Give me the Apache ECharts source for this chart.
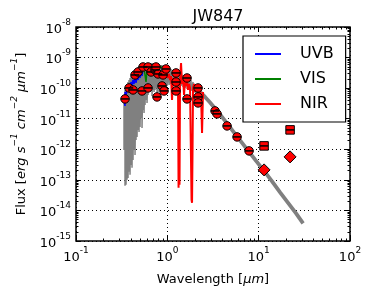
<!DOCTYPE html>
<html><head><meta charset="utf-8">
<script src="https://cdn.jsdelivr.net/npm/echarts@6/dist/echarts.min.js"></script>
<style>html,body{margin:0;padding:0;background:#fff}#c{width:373px;height:296px}</style>
</head><body><div id="c"></div>
<script>
const titleText = 'JW847';
const xTicks = [0.1, 1, 10, 100];
const yTicks = [1e-15, 1e-14, 1e-13, 1e-12, 1e-11, 1e-10, 1e-9, 1e-8];
const legendNames = ['UVB', 'VIS', 'NIR'];

// model spectrum (grey), dense optical part drawn as min/max pairs
const modelSpectrum = [
[0.3355,6.00e-11],[0.3355,9.56e-13],[0.3441,8.73e-11],[0.3441,6.37e-14],
[0.3529,1.015e-10],[0.3529,6.86e-14],[0.3620,1.27e-10],[0.3620,1.00e-13],
[0.3712,1.59e-10],[0.3712,1.16e-13],[0.3806,1.85e-10],[0.3806,1.83e-13],
[0.3904,2.15e-10],[0.3904,1.46e-13],[0.4003,2.50e-10],[0.4003,3.09e-13],
[0.4105,2.70e-10],[0.4105,2.47e-13],[0.4210,2.91e-10],[0.4210,4.50e-13],
[0.4318,3.38e-10],[0.4318,9.56e-13],[0.4428,3.93e-10],[0.4428,6.56e-13],
[0.4541,4.24e-10],[0.4541,2.03e-12],[0.4657,4.57e-10],[0.4657,2.54e-12],
[0.4776,4.93e-10],[0.4776,4.31e-12],[0.4898,5.31e-10],[0.4898,3.70e-12],
[0.5023,5.73e-10],[0.5023,5.40e-12],[0.5151,5.73e-10],[0.5151,1.06e-11],
[0.5283,6.18e-10],[0.5283,5.00e-12],[0.5417,6.18e-10],[0.5417,1.94e-11],
[0.5556,6.66e-10],[0.5556,1.55e-11],[0.5698,6.66e-10],[0.5698,2.82e-11],
[0.5843,6.66e-10],[0.5843,4.11e-11],[0.5993,6.66e-10],[0.5993,3.28e-11],
[0.6146,6.66e-10],[0.6146,6.00e-11],[0.6300,6.66e-10],[0.6300,8.10e-11],
[0.6464,6.66e-10],[0.6464,7.51e-11],[0.6629,6.66e-10],[0.6629,9.42e-11],
[0.6798,6.66e-10],[0.6798,5.56e-11],[0.6972,6.66e-10],[0.6972,8.73e-11],
[0.7150,6.18e-10],[0.7150,7.51e-11],[0.7332,6.18e-10],[0.7332,8.73e-11],
[0.7519,6.18e-10],[0.7519,1.015e-10],[0.7711,6.18e-10],[0.7711,6.97e-11],
[0.7909,6.18e-10],[0.7909,7.51e-11],[0.8111,5.73e-10],[0.8111,9.42e-11],
[0.8318,5.73e-10],[0.8318,8.10e-11],[0.8531,5.73e-10],[0.8531,1.015e-10],
[0.8749,5.73e-10],[0.8749,7.51e-11],[0.8974,5.31e-10],[0.8974,9.42e-11],
[0.9203,5.31e-10],[0.9203,8.73e-11],[0.9438,5.31e-10],[0.9438,1.18e-10],
[0.9678,4.93e-10],[0.9678,1.015e-10],[0.9925,4.93e-10],[0.9925,1.18e-10],
[1.0438,4.57e-10],[1.0438,1.27e-10],[1.0978,4.24e-10],[1.0978,1.37e-10],
[1.1546,3.93e-10],[1.1546,1.59e-10],[1.2143,3.65e-10],[1.2143,1.48e-10],
[1.2771,3.38e-10],[1.2771,1.37e-10],[1.3432,3.14e-10],[1.3432,1.27e-10],
[1.4127,2.91e-10],[1.4127,1.18e-10],[1.4858,2.70e-10],[1.4858,1.10e-10],
[1.5626,2.50e-10],[1.5626,1.015e-10],[1.6434,2.15e-10],[1.6434,9.42e-11],
[1.7284,2.00e-10],[1.7284,8.73e-11],[1.8178,1.85e-10],[1.8178,8.10e-11],
[1.9119,1.59e-10],[1.9119,7.51e-11],[2.0108,1.37e-10],[2.0108,6.97e-11],
[2.1148,1.27e-10],[2.1148,6.46e-11],[2.2242,1.10e-10],[2.2242,6.00e-11],
[2.3392,9.42e-11],[2.3392,5.56e-11]
];
// model spectrum (grey), infrared tail
const modelTail = [
[2.281,7.51e-11],[2.588,5.16e-11],[2.936,3.41e-11],[3.331,2.17e-11],[3.778,1.38e-11],
[4.507,7.02e-12],[5.514,3.19e-12],[6.579,1.62e-12],[7.851,8.22e-13],[9.365,4.18e-13],
[11.46,1.97e-13],[14.02,8.93e-14],[17.16,3.90e-14],[20.99,1.77e-14],[25.68,8.04e-15],[30.65,3.79e-15]
];
const uvb = [
[0.3355,4.11e-11],[0.3441,2.62e-11],[0.3441,7.51e-11],[0.3529,5.56e-11],[0.3620,1.015e-10],
[0.3712,7.51e-11],[0.3806,1.37e-10],[0.3904,8.73e-11],[0.4003,1.59e-10],[0.4105,1.18e-10],
[0.4210,1.85e-10],[0.4318,1.37e-10],[0.4428,2.15e-10],[0.4541,1.48e-10],[0.4657,2.50e-10],
[0.4776,1.85e-10],[0.4898,2.91e-10],[0.5023,2.15e-10],[0.5151,3.38e-10],[0.5283,2.50e-10],
[0.5417,3.93e-10]
];
const vis = [
[0.5417,3.93e-10],[0.5556,4.57e-10],[0.5698,2.70e-10],[0.5843,1.59e-10],[0.5993,3.93e-10],
[0.6146,5.31e-10],[0.6464,4.57e-10],[0.6798,5.31e-10],[0.7332,4.93e-10],[0.7909,4.57e-10],
[0.8531,4.93e-10],[0.9203,4.24e-10],[0.9925,3.93e-10]
];
const nir = [
[0.9925,3.38e-10],[1.0178,2.15e-10],[1.0438,2.91e-10],[1.071,1.85e-10],[1.0978,2.50e-10],
[1.1258,4.11e-11],[1.1546,2.15e-10],[1.1841,1.59e-10],[1.2143,2.50e-10],[1.2453,1.37e-10],
[1.2771,2.15e-10],[1.3097,1.015e-10],[1.327,5.48e-14],[1.3432,6.00e-11],[1.360,6.86e-14],
[1.3775,1.85e-10],[1.4127,6.66e-10],[1.4488,1.37e-10],[1.4858,2.15e-10],[1.5237,6.00e-11],
[1.5626,1.85e-10],[1.6025,1.18e-10],[1.6434,1.59e-10],[1.6854,8.73e-11],[1.7284,1.37e-10],
[1.7726,1.015e-10],[1.8178,1.18e-10],[1.841,2.22e-14],[1.8643,1.77e-14],[1.888,9.56e-13],
[1.9119,1.015e-10],[1.9607,1.37e-10],[2.0108,7.51e-11],[2.0621,1.18e-10],[2.1148,8.73e-11],
[2.1688,1.015e-10],[2.2242,6.46e-11],[2.281,8.73e-11],[2.3392,5.56e-11],[2.399,3.44e-12],
[2.460,7.51e-11]
];
const photCircles = [
[0.3441,4.44e-11],[0.3806,1.015e-10],[0.4210,8.73e-11],[0.4428,2.70e-10],[0.4776,3.38e-10],
[0.5283,8.10e-11],[0.5417,4.93e-10],[0.6146,1.015e-10],[0.6146,4.93e-10],[0.6629,3.38e-10],
[0.7332,3.93e-10],[0.7519,4.93e-10],[0.7711,5.16e-11],[0.7909,2.91e-10],[0.8749,1.18e-10],
[0.8974,2.70e-10],[0.9203,8.10e-11],[0.9678,4.24e-10],[1.245,3.14e-10],[1.245,1.59e-10],
[1.245,8.10e-11],[1.643,2.15e-10],[1.643,4.44e-11],[2.169,1.015e-10],[2.169,5.16e-11],
[2.169,3.28e-11],[3.331,1.80e-11],[3.503,1.44e-11],[4.507,5.82e-12],[5.80,2.54e-12],
[7.851,8.87e-13]
];
const photSquares = [[11.46,1.29e-12],[22.08,4.31e-12]];
const photDiamonds = [[11.46,2.12e-13],[22.08,5.64e-13]];

const FONT = 'DejaVu Sans';
function minorOf(ticks){ const out=[]; for(let i=0;i<ticks.length-1;i++){ for(let k=2;k<=9;k++) out.push(ticks[i]*k); } return out; }
const xMinor = minorOf(xTicks), yMinor = minorOf(yTicks);
function supLabel(v){ const e = Math.round(Math.log10(v)); return '{b|10}{s|' + e + '}'; }
const labelRich = {
  b: {fontFamily: FONT, fontSize: 13, color: '#000', lineHeight: 18, verticalAlign: 'bottom'},
  s: {fontFamily: FONT, fontSize: 9, color: '#000', lineHeight: 18, verticalAlign: 'top', padding:[0,0,0,0]}
};
const gridLine = {show: true, lineStyle: {color: '#000', width: 1, type: [1, 3]}};
function mkX(pos, major, labels){
  return {type:'log', logBase:10, min:0.1, max:100, position:pos, splitNumber:3,
    axisLine:{show:false},
    axisTick:{show:true, inside:true, length: major?5:2.5, customValues: major?xTicks:xMinor, lineStyle:{color:'#000', width:1}},
    axisLabel: labels ? {show:true, customValues:xTicks, formatter:supLabel, margin:5, rich:labelRich} : {show:false},
    splitLine: (major && labels) ? gridLine : {show:false},
    name: labels ? '{n|Wavelength [}{i|μm}{n|]}' : '', nameLocation:'middle', nameGap: 32,
    nameTextStyle: {rich:{n:{fontFamily:FONT,fontSize:13,color:'#000'}, i:{fontFamily:FONT,fontSize:13,fontStyle:'italic',color:'#000'}}}
  };
}
function mkY(pos, major, labels){
  return {type:'log', logBase:10, min:1e-15, max:1e-8, position:pos, splitNumber:7,
    axisLine:{show:false},
    axisTick:{show:true, inside:true, length: major?5:2.5, customValues: major?yTicks:yMinor, lineStyle:{color:'#000', width:1}},
    axisLabel: labels ? {show:true, customValues:yTicks, formatter:supLabel, margin:5, rich:labelRich} : {show:false},
    splitLine: (major && labels) ? gridLine : {show:false},
    name: labels ? '{n|Flux [}{i|erg s}{s|−1}{i| cm}{s|−2}{i| μm}{s|−1}{n|]}' : '',
    nameLocation:'middle', nameGap: 48, nameRotate: 90,
    nameTextStyle: {rich:{
      n:{fontFamily:FONT,fontSize:13,color:'#000',lineHeight:18,verticalAlign:'bottom'},
      i:{fontFamily:FONT,fontSize:13,fontStyle:'italic',color:'#000',lineHeight:18,verticalAlign:'bottom'},
      s:{fontFamily:FONT,fontSize:9,fontStyle:'italic',color:'#000',lineHeight:18,verticalAlign:'top'}}}
  };
}
const chart = echarts.init(document.getElementById('c'), null, {renderer:'canvas'});
chart.setOption({
  animation:false,
  backgroundColor:'#fff',
  title:{text:titleText, left:213, textAlign:'center', top:4, textStyle:{fontFamily:FONT, fontSize:16, fontWeight:'normal', color:'#000'}},
  grid:{left:76, right:23, top:27, bottom:55, show:true, borderColor:'#000', borderWidth:1.5, backgroundColor:'#fff'},
  legend:{data:legendNames, orient:'vertical', left:243, top:36, icon:'rect', itemWidth:26, itemHeight:2, itemGap:9,
    padding:[10,12,10,12], borderColor:'#000', borderWidth:1.2, backgroundColor:'#fff', borderRadius:0,
    textStyle:{fontFamily:FONT, fontSize:16, color:'#000', padding:[0,0,0,14]}},
  xAxis:[mkX('bottom',true,true), mkX('bottom',false,false), mkX('top',true,false), mkX('top',false,false)],
  yAxis:[mkY('left',true,true), mkY('left',false,false), mkY('right',true,false), mkY('right',false,false)],
  series:[
    {name:'model', type:'line', data:modelSpectrum, showSymbol:false, symbol:'none', lineStyle:{color:'#808080', width:1.5}, z:1},
    {name:'model tail', type:'line', data:modelTail, showSymbol:false, symbol:'none', lineStyle:{color:'#808080', width:3.8}, z:1},
    {name:'UVB', type:'line', data:uvb, symbol:'none', lineStyle:{color:'#0000ff', width:1.5}, itemStyle:{color:'#0000ff'}, z:2},
    {name:'VIS', type:'line', data:vis, symbol:'none', lineStyle:{color:'#008000', width:1.5}, itemStyle:{color:'#008000'}, z:2},
    {name:'NIR', type:'line', data:nir, symbol:'none', lineStyle:{color:'#ff0000', width:2}, itemStyle:{color:'#ff0000'}, z:2},
    {name:'phot', type:'scatter', data:photCircles, symbol:'circle', symbolSize:8.5, itemStyle:{color:'#ff0000', borderColor:'#000', borderWidth:1, opacity:1}, z:3},
    {name:'photSq', type:'scatter', data:photSquares, symbol:'rect', symbolSize:8.5, itemStyle:{color:'#ff0000', borderColor:'#000', borderWidth:1, opacity:1}, z:3},
    {name:'photDia', type:'scatter', data:photDiamonds, symbol:'diamond', symbolSize:12, itemStyle:{color:'#ff0000', borderColor:'#000', borderWidth:1, opacity:1}, z:3},
    {name:'bars', type:'scatter', data:photCircles.concat(photSquares), symbol:'rect', symbolSize:[8.5,1.5], itemStyle:{color:'#000', opacity:1}, z:4}
  ]
});
</script></body></html>
